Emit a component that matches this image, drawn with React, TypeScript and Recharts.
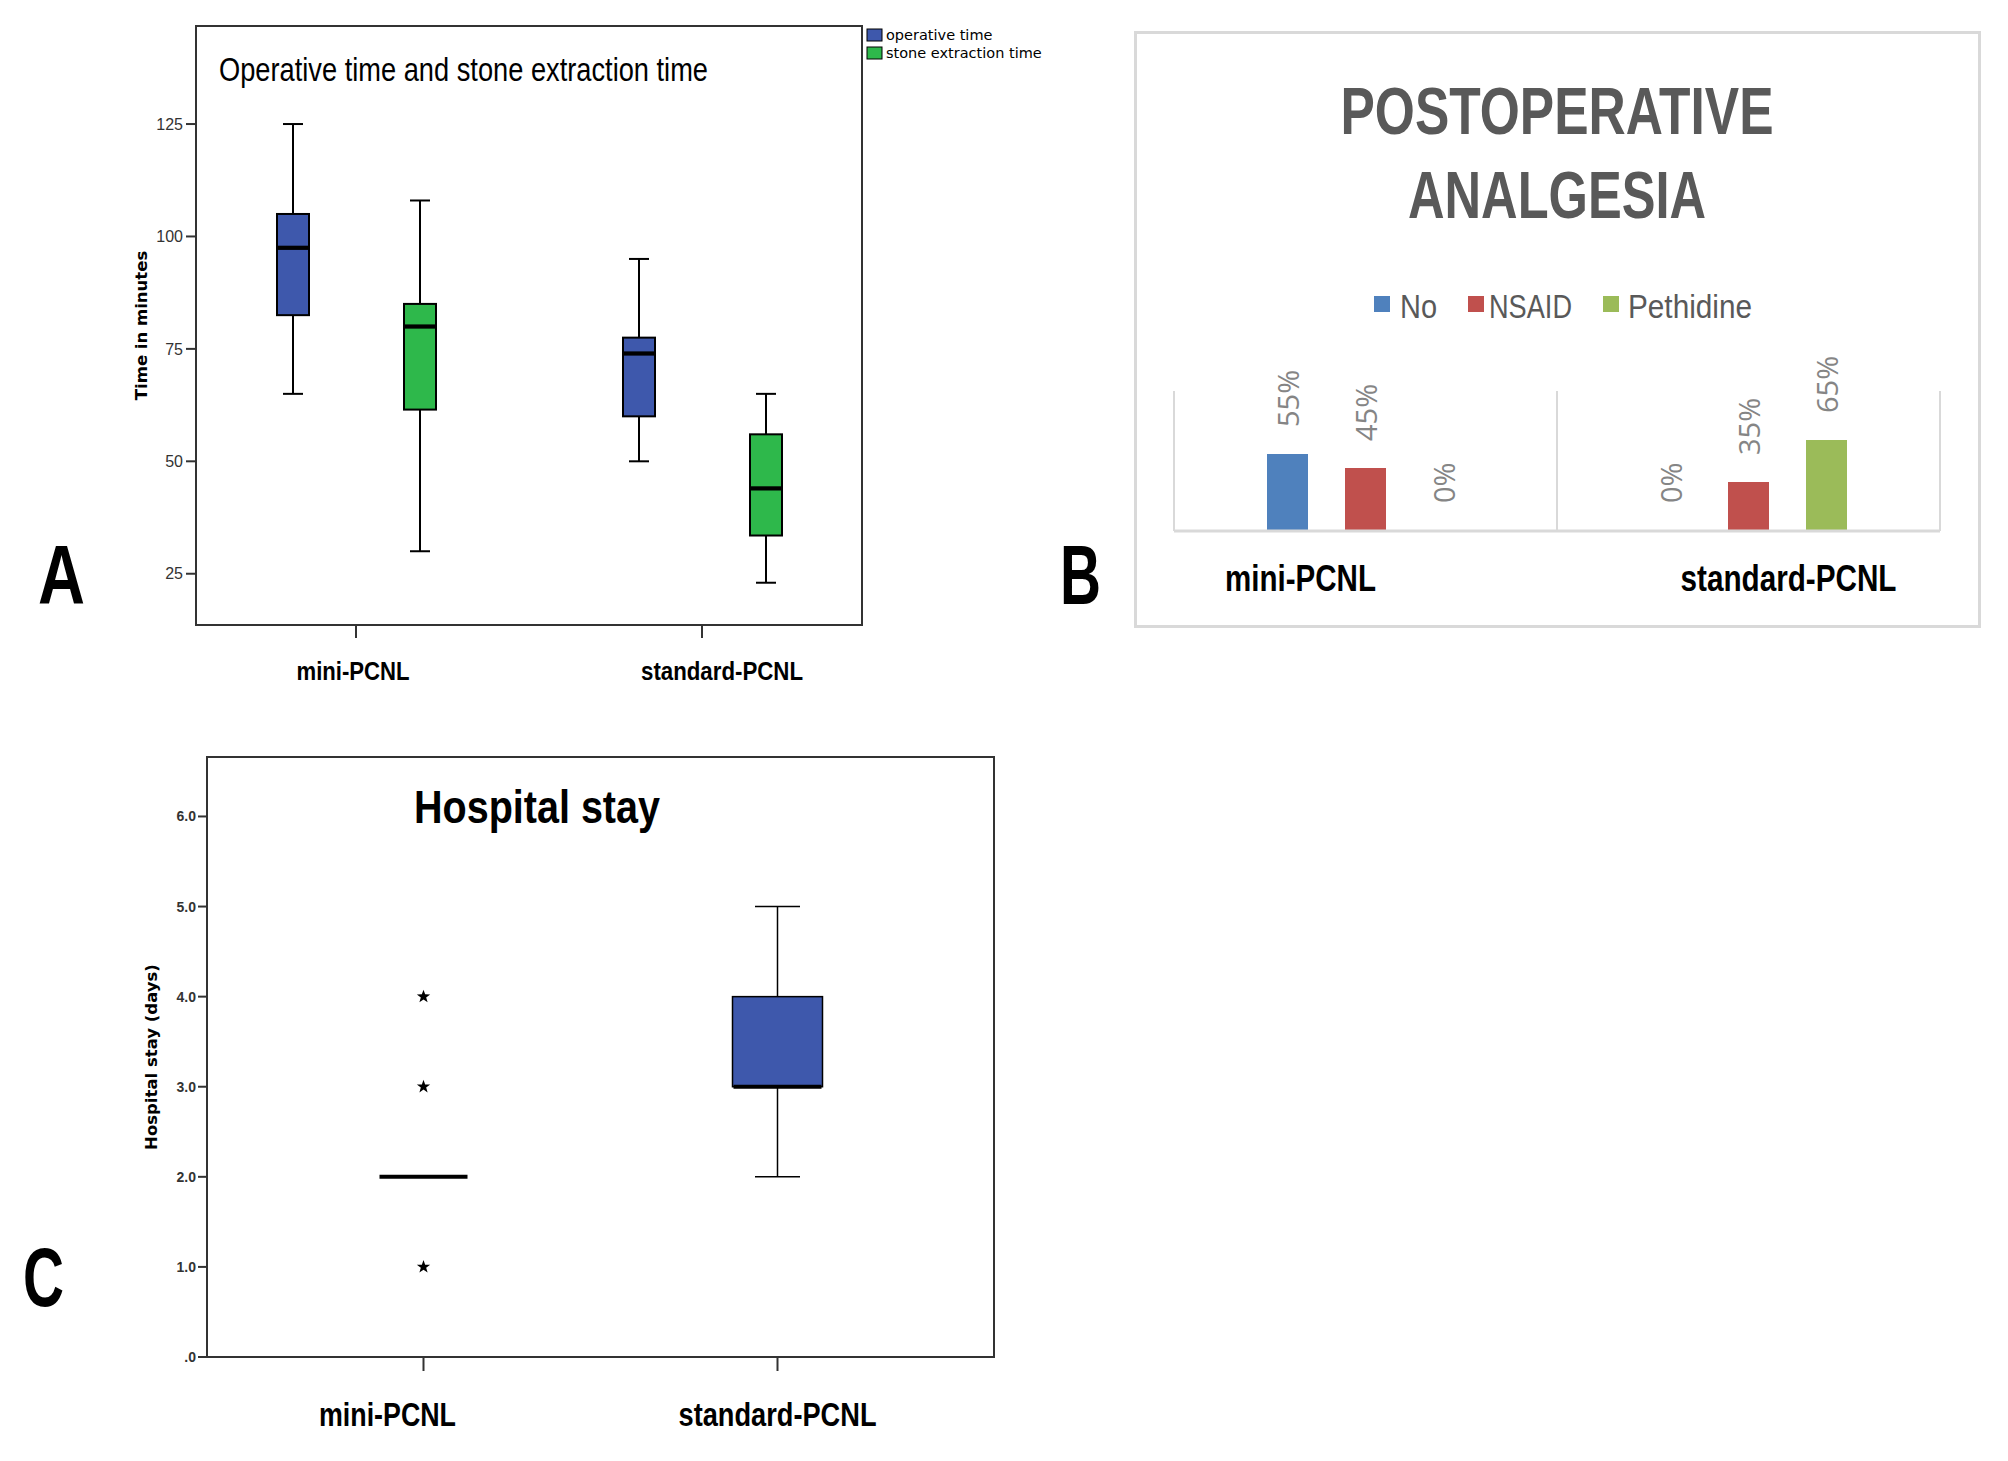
import React from "react";
import {
  ComposedChart,
  BarChart,
  Bar,
  Scatter,
  XAxis,
  YAxis,
  CartesianGrid,
  LabelList,
} from "recharts";

// no narrow face installed: Arial-metric font squeezed with textLength instead
const SANS = "'Liberation Sans', Arial, sans-serif";
const WIDE = "'DejaVu Sans', Verdana, sans-serif";

const BOX_BLUE = "#3e58ac";
const BOX_GREEN = "#2eb84b";

// --- A: operative time / stone extraction time (minutes) ---
const groups = ["mini-PCNL", "standard-PCNL"];
const operativeMin = [65, 50];
const operativeQ1 = [82.5, 60];
const operativeMedian = [97.5, 74];
const operativeQ3 = [105, 77.5];
const operativeMax = [125, 95];
const stoneMin = [30, 23];
const stoneQ1 = [61.5, 33.5];
const stoneMedian = [80, 44];
const stoneQ3 = [85, 56];
const stoneMax = [108, 65];
const timeTicks = [25, 50, 75, 100, 125];

// --- B: postoperative analgesia (%) ---
const analgesiaNo = [55, 0];
const analgesiaNsaid = [45, 35];
const analgesiaPethidine = [0, 65];

// --- C: hospital stay (days) ---
const stayMin = [2, 2];
const stayQ1 = [2, 3];
const stayMedian = [2, 3];
const stayQ3 = [2, 4];
const stayMax = [2, 5];
const stayOutlierGroup = ["mini-PCNL", "mini-PCNL", "mini-PCNL"];
const stayOutlierValue = [4, 3, 1];
const stayTicks = [0, 1, 2, 3, 4, 5, 6];

const stack = (i: number, min: number[], q1: number[], med: number[], q3: number[], max: number[]) => ({
  base: min[i],
  lowWhisker: q1[i] - min[i],
  lowBox: med[i] - q1[i],
  highBox: q3[i] - med[i],
  highWhisker: max[i] - q3[i],
});

const timeRows = groups.map((g, i) => {
  const op = stack(i, operativeMin, operativeQ1, operativeMedian, operativeQ3, operativeMax);
  const st = stack(i, stoneMin, stoneQ1, stoneMedian, stoneQ3, stoneMax);
  return {
    group: g,
    opBase: op.base, opLw: op.lowWhisker, opLb: op.lowBox, opHb: op.highBox, opHw: op.highWhisker,
    stBase: st.base, stLw: st.lowWhisker, stLb: st.lowBox, stHb: st.highBox, stHw: st.highWhisker,
  };
});

const analgesiaRows = groups.map((g, i) => ({
  group: g,
  no: analgesiaNo[i],
  nsaid: analgesiaNsaid[i],
  pethidine: analgesiaPethidine[i],
}));

const stayRows = groups.map((g, i) => ({ group: g, ...stack(i, stayMin, stayQ1, stayMedian, stayQ3, stayMax) }));
const stayMedianRows = groups.map((g, i) => ({ group: g, value: stayMedian[i] }));
const stayOutlierRows = stayOutlierGroup.map((g, i) => ({ group: g, value: stayOutlierValue[i] }));

// box-plot pieces drawn on top of stacked bar segments
const whisker = (cap: number, end: "top" | "bottom", sw: number) => (p: any) => {
  const { x, y, width, height } = p;
  if (width == null || height == null) return <g />;
  const cx = x + width / 2;
  const yc = end === "top" ? y : y + height;
  return (
    <g>
      <line x1={cx} x2={cx} y1={y} y2={y + height} stroke="#000" strokeWidth={sw} />
      <line x1={cx - cap / 2} x2={cx + cap / 2} y1={yc} y2={yc} stroke="#000" strokeWidth={sw} />
    </g>
  );
};

const boxPart = (fill: string, median: "top" | "bottom" | null, sw: number, msw: number) => (p: any) => {
  const { x, y, width, height } = p;
  if (width == null || height == null) return <g />;
  const my = median === "top" ? y : y + height;
  return (
    <g>
      <rect x={x} y={y} width={width} height={height} fill={fill} stroke="#000" strokeWidth={sw} />
      {median && <line x1={x} x2={x + width} y1={my} y2={my} stroke="#000" strokeWidth={msw} />}
    </g>
  );
};

// excel bars: a 0 value keeps a 1px slot (so its label is placed) but paints nothing
const excelBar = (p: any) =>
  p.height > 1.5 ? <rect x={p.x} y={p.y} width={p.width} height={p.height} fill={p.fill} /> : <g />;

const catTick = (fontSize: number, shifts: number[], widths: number[], drop: number) => (props: any) => {
  const { x, y, payload, index } = props;
  return (
    <text
      x={x + (shifts[index] ?? 0)}
      y={y + drop}
      textAnchor="middle"
      dominantBaseline="central"
      fontFamily={SANS}
      fontWeight="bold"
      fontSize={fontSize}
      textLength={widths[index]}
      lengthAdjust="spacingAndGlyphs"
      fill="#000"
    >
      {payload.value}
    </text>
  );
};

const pctLabel = (props: any) => {
  const vb = props.viewBox ?? props;
  const x = vb.x ?? props.x;
  const y = vb.y ?? props.y;
  const width = vb.width ?? props.width;
  const cx = x + width / 2;
  const ty = y - 27;
  return (
    <text
      x={cx}
      y={ty}
      transform={`rotate(-90 ${cx} ${ty})`}
      textAnchor="start"
      dominantBaseline="central"
      fontFamily="'Open Sans', sans-serif"
      fontSize={29}
      fill="#858585"
    >
      {`${props.value}%`}
    </text>
  );
};

const star = (p: any) => {
  const { cx, cy } = p;
  const pts: string[] = [];
  for (let k = 0; k < 10; k++) {
    const r = k % 2 === 0 ? 7 : 2.8;
    const a = -Math.PI / 2 + (k * Math.PI) / 5;
    pts.push(`${cx + r * Math.cos(a)},${cy + r * Math.sin(a)}`);
  }
  return <polygon points={pts.join(" ")} fill="#000" />;
};

const medianBar = (p: any) => (
  <line x1={p.cx - 44} x2={p.cx + 44} y1={p.cy} y2={p.cy} stroke="#000" strokeWidth={4} />
);

const abs = (left: number, top: number): React.CSSProperties => ({ position: "absolute", left, top });

const Squeezed = (p: { x: number; y: number; w: number; size: number; bold?: boolean; fill?: string; anchor?: string; children: string }) => (
  <text
    x={p.x}
    y={p.y}
    textAnchor={p.anchor ?? "start"}
    fontFamily={SANS}
    fontWeight={p.bold ? "bold" : "normal"}
    fontSize={p.size}
    fill={p.fill ?? "#000"}
    textLength={p.w}
    lengthAdjust="spacingAndGlyphs"
  >
    {p.children}
  </text>
);

export default function App() {
  return (
    <div style={{ position: "absolute", left: 0, top: 0, width: 2008, height: 1461, background: "#fff", overflow: "hidden" }}>
      {/* frames */}
      <div style={{ ...abs(195, 25), width: 668, height: 601, border: "2px solid #333", boxSizing: "border-box" }} />
      <div style={{ ...abs(1134, 31), width: 847, height: 597, border: "3px solid #d9d9d9", boxSizing: "border-box" }} />
      <div style={{ ...abs(206, 756), width: 789, height: 602, border: "2px solid #333", boxSizing: "border-box" }} />

      {/* A */}
      <div style={abs(0, 0)}>
        <ComposedChart
          width={870}
          height={705}
          data={timeRows}
          margin={{ top: 26, right: 8, bottom: 0, left: 86 }}
          barGap={95}
          barSize={32}
        >
          <XAxis
            dataKey="group"
            height={80}
            interval={0}
            padding={{ left: -13, right: -13 }}
            axisLine={false}
            tickLine={{ stroke: "#333", strokeWidth: 2 }}
            tickSize={13}
            tick={catTick(26, [-3, 20], [113, 162], 31)}
          />
          <YAxis
            width={110}
            domain={[13.6, 146.8]}
            allowDataOverflow
            ticks={timeTicks}
            axisLine={false}
            tickLine={{ stroke: "#333", strokeWidth: 2 }}
            tickSize={10}
            tickMargin={3}
            tick={{ fontSize: 16, fill: "#333", fontFamily: SANS }}
            label={{
              value: "Time in minutes",
              angle: -90,
              position: "center",
              style: { fontFamily: WIDE, fontWeight: "bold", fontSize: 16.5, fill: "#000" },
            }}
          />
          <Bar dataKey="opBase" stackId="op" fill="none" isAnimationActive={false} />
          <Bar dataKey="opLw" stackId="op" shape={whisker(20, "bottom", 2)} isAnimationActive={false} />
          <Bar dataKey="opLb" stackId="op" shape={boxPart(BOX_BLUE, "top", 2, 4)} isAnimationActive={false} />
          <Bar dataKey="opHb" stackId="op" shape={boxPart(BOX_BLUE, "bottom", 2, 4)} isAnimationActive={false} />
          <Bar dataKey="opHw" stackId="op" shape={whisker(20, "top", 2)} isAnimationActive={false} />
          <Bar dataKey="stBase" stackId="st" fill="none" isAnimationActive={false} />
          <Bar dataKey="stLw" stackId="st" shape={whisker(20, "bottom", 2)} isAnimationActive={false} />
          <Bar dataKey="stLb" stackId="st" shape={boxPart(BOX_GREEN, "top", 2, 4)} isAnimationActive={false} />
          <Bar dataKey="stHb" stackId="st" shape={boxPart(BOX_GREEN, "bottom", 2, 4)} isAnimationActive={false} />
          <Bar dataKey="stHw" stackId="st" shape={whisker(20, "top", 2)} isAnimationActive={false} />
        </ComposedChart>
      </div>

      {/* B */}
      <div style={abs(1135, 32)}>
        <BarChart
          width={845}
          height={595}
          data={analgesiaRows}
          margin={{ top: 359, right: 40, bottom: 0, left: 39 }}
          barGap={37}
          barSize={41}
        >
          <CartesianGrid
            horizontal={false}
            stroke="#d9d9d9"
            strokeWidth={2}
            verticalCoordinatesGenerator={({ offset }: any) => [
              offset.left,
              offset.left + offset.width / 2,
              offset.left + offset.width,
            ]}
          />
          <XAxis
            dataKey="group"
            height={96}
            interval={0}
            axisLine={{ stroke: "#d9d9d9", strokeWidth: 3 }}
            tickLine={false}
            tickSize={0}
            tickMargin={0}
            tick={catTick(36, [-65, 40], [151, 216], 47)}
          />
          <YAxis hide domain={[0, 100]} />
          <Bar dataKey="no" fill="#4f81bd" minPointSize={1} shape={excelBar} isAnimationActive={false}>
            <LabelList dataKey="no" content={pctLabel} />
          </Bar>
          <Bar dataKey="nsaid" fill="#c0504d" minPointSize={1} shape={excelBar} isAnimationActive={false}>
            <LabelList dataKey="nsaid" content={pctLabel} />
          </Bar>
          <Bar dataKey="pethidine" fill="#9bbb59" minPointSize={1} shape={excelBar} isAnimationActive={false}>
            <LabelList dataKey="pethidine" content={pctLabel} />
          </Bar>
        </BarChart>
      </div>

      {/* C */}
      <div style={abs(0, 700)}>
        <ComposedChart
          width={1000}
          height={761}
          data={stayRows}
          margin={{ top: 57, right: 6, bottom: 4, left: 95 }}
          barSize={90}
        >
          <XAxis
            dataKey="group"
            height={100}
            interval={0}
            allowDuplicatedCategory={false}
            padding={{ left: 39.5, right: 39.5 }}
            axisLine={false}
            tickLine={{ stroke: "#333", strokeWidth: 2 }}
            tickSize={14}
            tick={catTick(33, [-36, 0], [137, 198], 41)}
          />
          <YAxis
            width={112}
            domain={[0, 6.66]}
            allowDataOverflow
            ticks={stayTicks}
            tickFormatter={(v: number) => (v === 0 ? ".0" : v.toFixed(1))}
            axisLine={false}
            tickLine={{ stroke: "#333", strokeWidth: 2 }}
            tickSize={9}
            tickMargin={2}
            tick={{ fontSize: 14, fill: "#333", fontFamily: SANS, fontWeight: "bold" }}
            label={{
              value: "Hospital stay (days)",
              angle: -90,
              position: "center",
              style: { fontFamily: WIDE, fontWeight: "bold", fontSize: 16.5, fill: "#000" },
            }}
          />
          <Bar dataKey="base" stackId="s" fill="none" isAnimationActive={false} />
          <Bar dataKey="lowWhisker" stackId="s" shape={whisker(45, "bottom", 1.5)} isAnimationActive={false} />
          <Bar dataKey="lowBox" stackId="s" shape={boxPart(BOX_BLUE, null, 1.5, 4)} isAnimationActive={false} />
          <Bar dataKey="highBox" stackId="s" shape={boxPart(BOX_BLUE, null, 1.5, 4)} isAnimationActive={false} />
          <Bar dataKey="highWhisker" stackId="s" shape={whisker(45, "top", 1.5)} isAnimationActive={false} />
          <Scatter data={stayMedianRows} dataKey="value" shape={medianBar} isAnimationActive={false} />
          <Scatter data={stayOutlierRows} dataKey="value" shape={star} isAnimationActive={false} />
        </ComposedChart>
      </div>

      {/* titles, legends, panel letters */}
      <svg width={2008} height={1461} style={{ position: "absolute", left: 0, top: 0, pointerEvents: "none" }}>
        <Squeezed x={219} y={81} w={489} size={33}>Operative time and stone extraction time</Squeezed>
        <rect x={867} y={29} width={15} height={12} fill={BOX_BLUE} stroke="#000" strokeWidth={1} />
        <text x={886} y={40} fontFamily={WIDE} fontSize={14.5} fill="#000">operative time</text>
        <rect x={867} y={47} width={15} height={12} fill={BOX_GREEN} stroke="#000" strokeWidth={1} />
        <text x={886} y={58} fontFamily={WIDE} fontSize={14.5} fill="#000">stone extraction time</text>

        <Squeezed x={1557} y={134} w={433} size={66} bold anchor="middle" fill="#595959">POSTOPERATIVE</Squeezed>
        <Squeezed x={1557} y={218} w={298} size={66} bold anchor="middle" fill="#595959">ANALGESIA</Squeezed>
        <rect x={1374} y={296} width={16} height={16} fill="#4f81bd" />
        <Squeezed x={1400} y={318} w={37} size={34} fill="#595959">No</Squeezed>
        <rect x={1468} y={296} width={16} height={16} fill="#c0504d" />
        <Squeezed x={1489} y={318} w={83} size={34} fill="#595959">NSAID</Squeezed>
        <rect x={1603} y={296} width={16} height={16} fill="#9bbb59" />
        <Squeezed x={1628} y={318} w={124} size={34} fill="#595959">Pethidine</Squeezed>

        <Squeezed x={414} y={823} w={246} size={46} bold>Hospital stay</Squeezed>

        <Squeezed x={38} y={604} w={47} size={84} bold>A</Squeezed>
        <Squeezed x={1060} y={604} w={41} size={84} bold>B</Squeezed>
        <Squeezed x={23} y={1306} w={41} size={84} bold>C</Squeezed>
      </svg>
    </div>
  );
}
